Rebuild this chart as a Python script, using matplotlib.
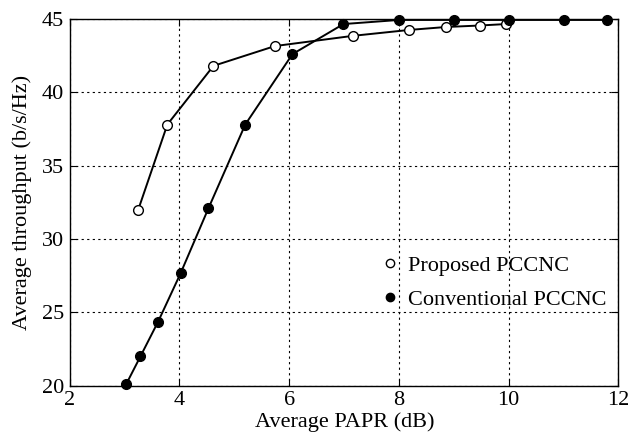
import matplotlib
matplotlib.use('Agg')
import matplotlib.pyplot as plt
from matplotlib.lines import Line2D

plt.rcParams['font.family'] = ['Liberation Serif', 'DejaVu Serif']
plt.rcParams['mathtext.fontset'] = 'stix'

# proposed PCCNC (open circles)
papr_proposed = [3.25, 3.78, 4.62, 5.74, 7.17, 8.19, 8.86, 9.47, 9.95]
thr_proposed = [32.0, 37.8, 41.8, 43.15, 43.85, 44.25, 44.45, 44.55, 44.65]

# conventional PCCNC (filled circles)
papr_conv = [3.03, 3.29, 3.61, 4.02, 4.53, 5.2, 6.06, 6.99, 8.0, 9.0, 10.0, 11.0, 11.8]
thr_conv = [20.1, 22.0, 24.35, 27.65, 32.1, 37.8, 42.6, 44.65, 44.93, 44.93, 44.93, 44.93, 44.93]

xticks = [2, 4, 6, 8, 10, 12]
yticks = [20, 25, 30, 35, 40, 45]

fig = plt.figure(figsize=(6.41, 4.32), dpi=100)
ax = fig.add_axes([0.1087, 0.1072, 0.856, 0.849])

ax.plot(papr_proposed, thr_proposed, '-o', color='black', lw=1.4,
        markersize=7, markerfacecolor='white', markeredgecolor='black',
        markeredgewidth=1.0, clip_on=False, zorder=3)
ax.plot(papr_conv, thr_conv, '-o', color='black', lw=1.4,
        markersize=7, markerfacecolor='black', markeredgecolor='black',
        clip_on=False, zorder=3)

ax.set_xlim(2, 12)
ax.set_ylim(20, 45)
ax.set_xticks(xticks)
ax.set_yticks(yticks)
ax.grid(True, color='black', linestyle=(0, (2, 3)), linewidth=0.8)
ax.tick_params(direction='in', length=5, labelsize=16, top=True, right=True)
ax.tick_params(axis='x', pad=4)
ax.tick_params(axis='y', pad=4)
for s in ax.spines.values():
    s.set_linewidth(1.0)

ax.set_xlabel('Average PAPR (dB)', fontsize=16)
ax.set_ylabel('Average throughput (b/s/Hz)', fontsize=16)
ax.xaxis.set_label_coords(0.502, -0.072)
ax.yaxis.set_label_coords(-0.069, 0.5)

handles = [
    Line2D([], [], linestyle='none', marker='o', markersize=6,
           markerfacecolor='white', markeredgecolor='black', markeredgewidth=1.0),
    Line2D([], [], linestyle='none', marker='o', markersize=6,
           markerfacecolor='black', markeredgecolor='black'),
]
ax.legend(handles, ['Proposed PCCNC', 'Conventional PCCNC'],
          loc='center left', bbox_to_anchor=(0.572, 0.281), frameon=False,
          fontsize=16, handlelength=0.6, handletextpad=0.5, labelspacing=0.6,
          borderpad=0, borderaxespad=0)

fig.savefig('out.png', dpi=100)
